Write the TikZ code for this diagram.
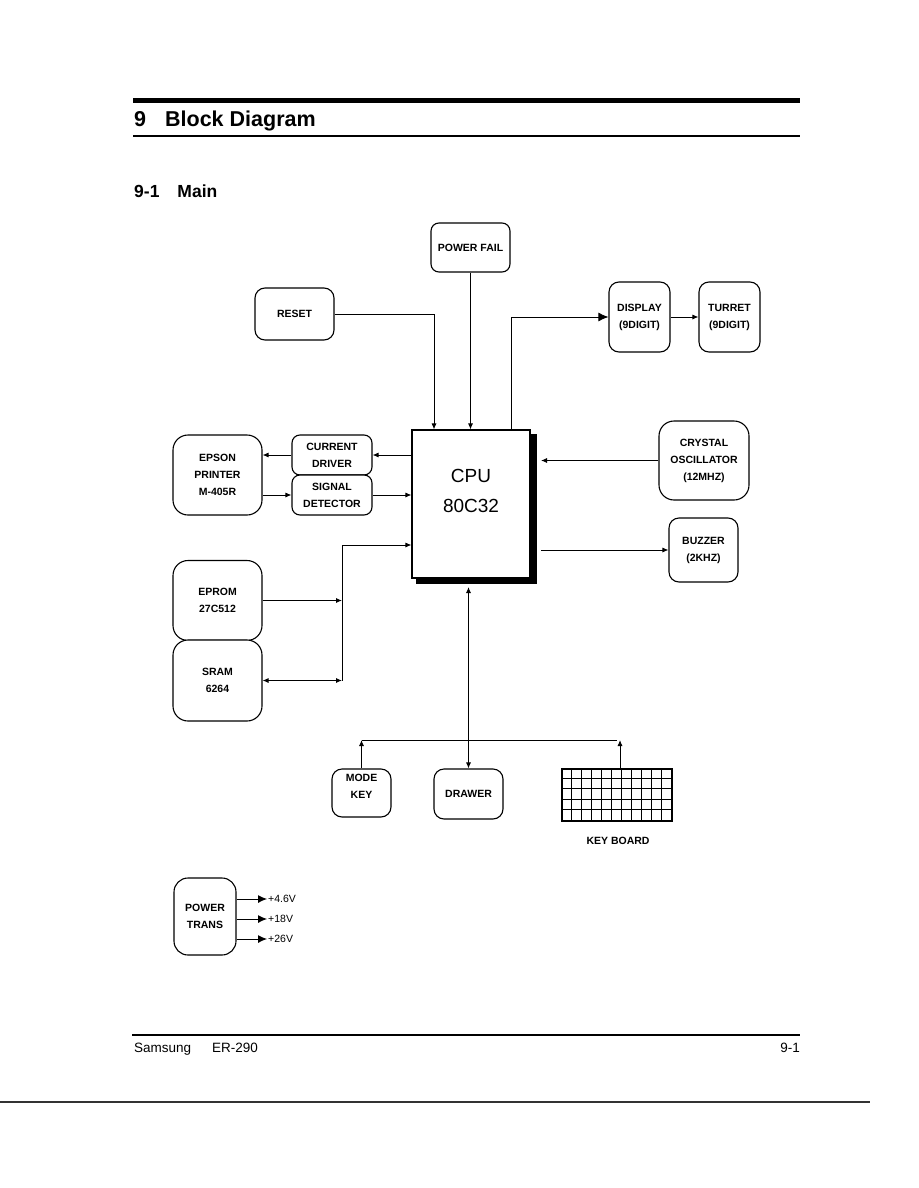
\documentclass[tikz,border=0pt]{standalone}
\usepackage{fontspec}
\setmainfont{Liberation Sans}
\usetikzlibrary{arrows.meta,calc,positioning}

\begin{document}
\begin{tikzpicture}[
      x=1pt,
      y=-1pt,
      blk/.style={
        draw,
        line width=1.1pt,
        rounded corners=10pt,
        fill=white,
        align=center,
        inner sep=0pt,
        font=\fontsize{10.5}{17}\selectfont\bfseries
      },
      bigblk/.style={blk, rounded corners=15pt},
      smallblk/.style={blk, rounded corners=8pt},
      boxtext/.style={align=center, inner sep=0pt, font=\fontsize{10.5}{17}\selectfont\bfseries},
      flow/.style={-{Latex[length=6pt,width=5pt]}, line width=0.9pt},
      dflow/.style={{Latex[length=6pt,width=5pt]}-{Latex[length=6pt,width=5pt]}, line width=0.9pt},
      bigflow/.style={-{Latex[length=10pt,width=9pt]}, line width=0.9pt},
      pwrflow/.style={-{Latex[length=9pt,width=8pt]}, line width=0.9pt},
      wire/.style={line width=0.9pt},
      rule/.style={line width=1.2pt},
      volt/.style={anchor=west, inner sep=1pt, font=\fontsize{10.5}{12}\selectfont},
      foot/.style={anchor=base west, inner sep=0pt, font=\fontsize{13.5}{16}\selectfont}
    ]
    \useasboundingbox (0,0) rectangle (918,1188);

    % page header and footer
    \draw[line width=5pt] (133,100.5) -- (800,100.5);
    \node[anchor=base west, inner sep=0pt, font=\fontsize{21.5}{24}\selectfont\bfseries]
      (title) at (134,127) {9\hspace{19pt}Block Diagram};
    \draw[line width=2pt] (133,136) -- (800,136);
    \node[anchor=base west, inner sep=0pt, font=\fontsize{17.5}{20}\selectfont\bfseries]
      (subtitle) at (134,197) {9-1\hspace{18pt}Main};
    \draw[rule] (132,1035) -- (800,1035);
    \node[foot] (maker) at (134,1052) {Samsung};
    \node[foot] (model) at (212,1052) {ER-290};
    \node[foot, anchor=base east] (page) at (800,1052) {9-1};
    \draw[line width=1.5pt, black!80] (0,1102) -- (870,1102);

    % blocks
    \node[smallblk, minimum width=79pt, minimum height=49pt] (pwrfail) at (470.5,247.5) {POWER FAIL};
    \node[blk, minimum width=79pt, minimum height=52pt] (reset) at (294.5,314) {RESET};
    \node[blk, minimum width=61pt, minimum height=70pt] (display) at (639.5,317) {DISPLAY\\(9DIGIT)};
    \node[blk, minimum width=61pt, minimum height=70pt] (turret) at (729.5,317) {TURRET\\(9DIGIT)};

    \fill (416,434) rectangle (537,584);
    \node[draw, line width=1.1pt, fill=white, minimum width=118pt, minimum height=148pt]
      (cpu) at (471,504) {};
    \node[align=center, inner sep=0pt, font=\fontsize{19}{30}\selectfont]
      (cputext) at (471,491) {CPU\\80C32};

    \node[smallblk, minimum width=80pt, minimum height=40pt] (curdrv) at (332,455) {CURRENT\\DRIVER};
    \node[smallblk, minimum width=80pt, minimum height=40pt] (sigdet) at (332,495) {SIGNAL\\DETECTOR};
    \node[bigblk, minimum width=89pt, minimum height=80pt] (epson) at (217.5,475) {EPSON\\PRINTER\\M-405R};
    \node[bigblk, minimum width=90pt, minimum height=79pt] (crystal) at (704,460.5) {CRYSTAL\\OSCILLATOR\\(12MHZ)};
    \node[blk, minimum width=69pt, minimum height=64pt] (buzzer) at (703.5,550) {BUZZER\\(2KHZ)};
    \node[bigblk, minimum width=89pt, minimum height=80pt] (eprom) at (217.5,600.5) {EPROM\\27C512};
    \node[bigblk, minimum width=89pt, minimum height=81pt] (sram) at (217.5,680.5) {SRAM\\6264};

    \node[blk, minimum width=59pt, minimum height=48pt] (modekey) at (361.5,793) {};
    \node[boxtext] (modekeytext) at (361.5,786) {MODE\\KEY};
    \node[blk, minimum width=69pt, minimum height=50pt] (drawer) at (468.5,794) {DRAWER};
    \node[draw, line width=2pt, minimum width=110pt, minimum height=52pt, inner sep=0pt] (keyboard) at (617,795) {};
    \foreach \c in {1,...,10}
      \draw[line width=0.8pt] ($(keyboard.north west)+(\c*10,0)$) -- ++(0,52);
    \foreach \r in {1,...,4}
      \draw[line width=0.8pt] ($(keyboard.north west)+(0,\r*10.4)$) -- ++(110,0);
    \node[boxtext] (kblabel) at (618,841) {KEY BOARD};

    \node[blk, rounded corners=14pt, minimum width=62pt, minimum height=77pt] (pwrtrans) at (205,916.5) {POWER\\TRANS};

    % connections
    \coordinate (membus) at (342,545);
    \coordinate (xtalin) at (541,460.5);
    \coordinate (buzout) at (541,550);
    \coordinate (cpubot) at (468.5,587);
    \coordinate (keybus) at (361.5,740);

    \draw[flow] (reset.east) -| ([xshift=-37pt]cpu.north);
    \draw[flow] (pwrfail.south) -- (pwrfail.south |- cpu.north);
    \draw[bigflow] ([xshift=40pt]cpu.north) |- (display.west);
    \draw[flow] (display.east) -- (turret.west);

    \draw[flow] (cpu.west |- curdrv.east) -- (curdrv.east);
    \draw[flow] (curdrv.west) -- (curdrv.west -| epson.east);
    \draw[flow] (epson.east |- sigdet.west) -- (sigdet.west);
    \draw[flow] (sigdet.east) -- (sigdet.east -| cpu.west);

    \draw[flow] (membus) -- (membus -| cpu.west);
    \draw[wire] (membus) -- (membus |- sram.east);
    \draw[flow] (eprom.east) -- (eprom.east -| membus);
    \draw[dflow] (sram.east) -- (sram.east -| membus);

    \draw[flow] (crystal.west) -- (xtalin);
    \draw[flow] (buzout) -- (buzzer.west);

    \draw[dflow] (cpubot) -- (drawer.north);
    \draw[flow] (modekey.north) -- (keybus);
    \draw[wire] (keybus) -- (keybus -| keyboard.north);
    \draw[flow] ([xshift=3pt]keyboard.north) -- ([xshift=3pt]keyboard.north |- keybus);

    \foreach \v/\y [count=\n] in {+4.6V/899,+18V/919,+26V/939} {
      \node[volt] (volt\n) at (267,\y) {\v};
      \draw[pwrflow] (pwrtrans.east |- volt\n.west) -- (volt\n.west);
    }
  \end{tikzpicture}
\end{document}
